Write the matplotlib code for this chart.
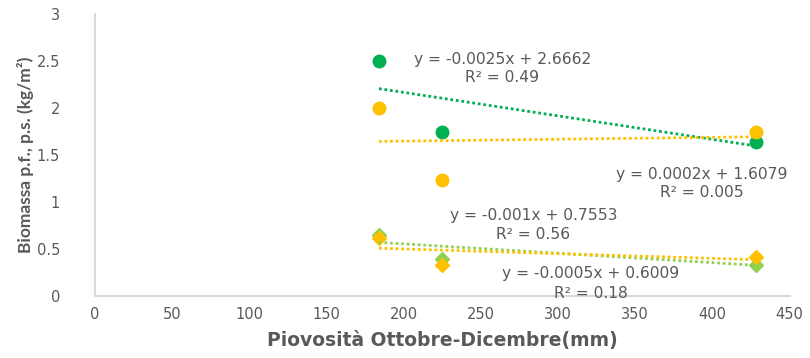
import numpy as np
import matplotlib.pyplot as plt

plt.rcParams['font.family'] = ['DejaVu Sans']

# piovosità ottobre-dicembre (mm) per le tre annate
pioggia = [184, 225, 428]

# biomassa (kg/m2): cerchi = sito A, rombi = sito B
pf_verde = [2.50, 1.75, 1.64]
pf_arancio = [2.00, 1.23, 1.75]
ps_verde = [0.65, 0.39, 0.33]
ps_arancio = [0.62, 0.33, 0.42]

# coefficienti delle linee di tendenza (pendenza, intercetta, R2)
tend_pf_verde = (-0.0025, 2.6662, 0.49)
tend_pf_arancio = (0.0002, 1.6079, 0.005)
tend_ps_verde = (-0.001, 0.7553, 0.56)
tend_ps_arancio = (-0.0005, 0.6009, 0.18)

verde = '#00B050'
arancio = '#FFC000'
verde_chiaro = '#92D050'
grigio = '#595959'

fig = plt.figure(figsize=(8.1, 3.58), dpi=100)
ax = fig.add_axes([0.117, 0.173, 0.858, 0.788])

ax.plot(pioggia, pf_verde, 'o', color=verde, ms=9, zorder=3)
ax.plot(pioggia, pf_arancio, 'o', color=arancio, ms=9, zorder=3)
ax.plot(pioggia, ps_verde, 'D', color=verde_chiaro, ms=7, zorder=3)
ax.plot(pioggia, ps_arancio, 'D', color=arancio, ms=7, zorder=3)

xx = np.array([min(pioggia), max(pioggia)])
for (m, q, r2), col in [(tend_pf_verde, verde), (tend_pf_arancio, arancio),
                        (tend_ps_verde, verde_chiaro), (tend_ps_arancio, arancio)]:
    ax.plot(xx, m * xx + q, color=col, lw=2, ls=(0, (1, 1)), zorder=4)

# etichette delle equazioni
etichette = [
    (tend_pf_verde, 264, 2.52, 2.32),
    (tend_pf_arancio, 393, 1.29, 1.10),
    (tend_ps_verde, 284, 0.86, 0.65),
    (tend_ps_arancio, 321, 0.245, 0.03),
]
for (m, q, r2), x, y1, y2 in etichette:
    segno = '+' if q >= 0 else '-'
    ax.text(x, y1, f'y = {m:g}x {segno} {abs(q):.4f}', ha='center', va='center',
            fontsize=11.2, color=grigio, zorder=5)
    ax.text(x, y2, f'R² = {r2:g}', ha='center', va='center',
            fontsize=11.2, color=grigio, zorder=5)

ax.set_xlim(0, 450)
ax.set_ylim(0, 3)
ax.set_xticks(np.arange(0, 451, 50))
ax.set_yticks([0, 0.5, 1, 1.5, 2, 2.5, 3])
ax.set_yticklabels(['0', '0.5', '1', '1.5', '2', '2.5', '3'])
ax.tick_params(length=0, labelsize=10.5, colors=grigio)
ax.tick_params(axis='y', pad=25)
ax.tick_params(axis='x', pad=8)

for s in ['top', 'right']:
    ax.spines[s].set_visible(False)
for s in ['left', 'bottom']:
    ax.spines[s].set_color('#D9D9D9')
    ax.spines[s].set_linewidth(1.5)

ax.set_xlabel('Piovosità Ottobre-Dicembre(mm)', fontsize=13.5, fontweight='bold',
              color=grigio, labelpad=6)
ax.set_ylabel('Biomassa p.f., p.s. (kg/m²)', fontsize=12.5, fontweight='bold',
              color=grigio, labelpad=2, fontfamily='Lato')

fig.savefig('out.png', dpi=100, facecolor='white')
